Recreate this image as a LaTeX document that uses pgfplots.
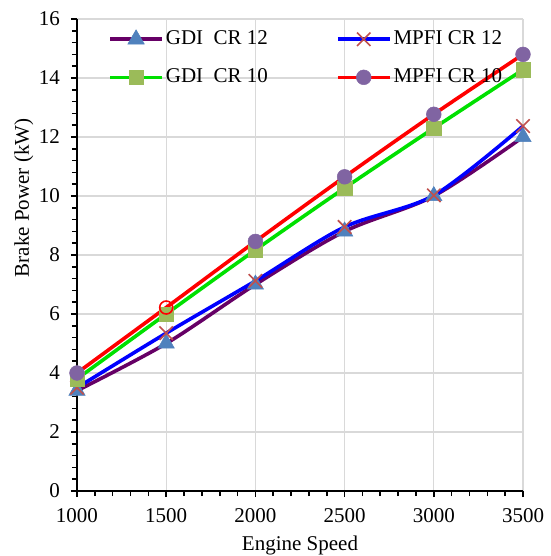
\documentclass[border=0pt]{standalone}
\usepackage{fontspec}
\setmainfont{Liberation Serif}
\usepackage{pgfplots}
\pgfplotsset{compat=1.18}
\usetikzlibrary{calc}
\definecolor{cPurple}{HTML}{660066}
\definecolor{cTri}{HTML}{4F81BD}
\definecolor{cBlue}{HTML}{0000FF}
\definecolor{cCross}{HTML}{C0504D}
\definecolor{cGreen}{HTML}{00E000}
\definecolor{cSq}{HTML}{9BBB59}
\definecolor{cRed}{HTML}{FF0000}
\definecolor{cCirc}{HTML}{8064A2}
\definecolor{cGrid}{HTML}{D9D9D9}
\begin{document}
\fontsize{21bp}{25bp}\selectfont
\begin{tikzpicture}
\begin{axis}[
  name=ax,
  scale only axis,
  width=446bp, height=472bp,
  xmin=1000, xmax=3500, ymin=0, ymax=16,
  xtick={1000,1500,...,3500},
  ytick={0,2,...,16},
  minor x tick num=4,
  minor y tick num=4,
  axis lines=left,
  axis line style={-, line width=2bp, black},
  tick style={black, line width=1.6bp},
  major tick length=6bp,
  minor tick length=5bp,
  tick align=outside,
  grid=major,
  major grid style={cGrid, line width=1.2bp},
  /pgf/number format/assume math mode=true,
  /pgf/number format/1000 sep={},
  tick label style={font=\fontsize{21bp}{25bp}\selectfont},
  xticklabel style={yshift=-4bp},
  yticklabel style={xshift=-4bp},
  xlabel={Engine Speed},
  ylabel={Brake Power (kW)},
  xlabel style={font=\fontsize{21bp}{25bp}\selectfont, at={(axis description cs:0.5,-0.115)}, anchor=center},
  ylabel style={font=\fontsize{21bp}{25bp}\selectfont, at={(axis description cs:-0.119,0.621)}, anchor=center},
  clip=false,
  legend columns=2,
  legend cell align=left,
  legend style={draw=none, fill=none, at={(axis description cs:0.063,0.984)}, anchor=north west,
    font=\fontsize{21bp}{25bp}\selectfont,
    /tikz/every even column/.append style={column sep=66bp},
    row sep=17bp},
  legend image code/.code={
    \draw[mark indices={2}] plot coordinates {(0bp,0bp)(26bp,0bp)(52bp,0bp)};
  },
  every axis plot/.append style={line width=3.6bp},
]
\addplot[cPurple, smooth, mark=triangle*, mark size=9.5bp, mark options={draw=cTri, fill=cTri, line width=0.5bp}]
  coordinates {(1000,3.4)(1500,5.0)(2000,7.0)(2500,8.8)(3000,10.0)(3500,12.0)};
\addlegendentry{GDI~ CR 12}
\addplot[cBlue, smooth, mark=x, mark size=9.5bp, mark options={draw=cCross, line width=1.6bp}]
  coordinates {(1000,3.5)(1500,5.35)(2000,7.12)(2500,8.95)(3000,10.02)(3500,12.37)};
\addlegendentry{MPFI CR 12}
\addplot[cGreen, smooth, mark=square*, mark size=7.2bp, mark options={draw=cSq, fill=cSq, line width=0.5bp}]
  coordinates {(1000,3.8)(1500,6.0)(2000,8.17)(2500,10.27)(3000,12.3)(3500,14.28)};
\addlegendentry{GDI~ CR 10}
\addplot[cRed, smooth, mark=*, mark size=7.4bp, mark indices={1,3,4,5,6}, mark options={draw=cCirc, fill=cCirc, line width=0.5bp}]
  coordinates {(1000,4.0)(1500,6.22)(2000,8.46)(2500,10.65)(3000,12.77)(3500,14.8)};
\addlegendentry{MPFI CR 10}
\addplot[only marks, forget plot, mark=o, mark size=6.5bp, mark options={draw=cRed, line width=1.6bp}]
  coordinates {(1500,6.22)};
\end{axis}
\pgfresetboundingbox
\path[use as bounding box] ($(ax.south west)+(-77bp,-65bp)$) rectangle +(551bp,556bp);
\end{tikzpicture}
\end{document}
